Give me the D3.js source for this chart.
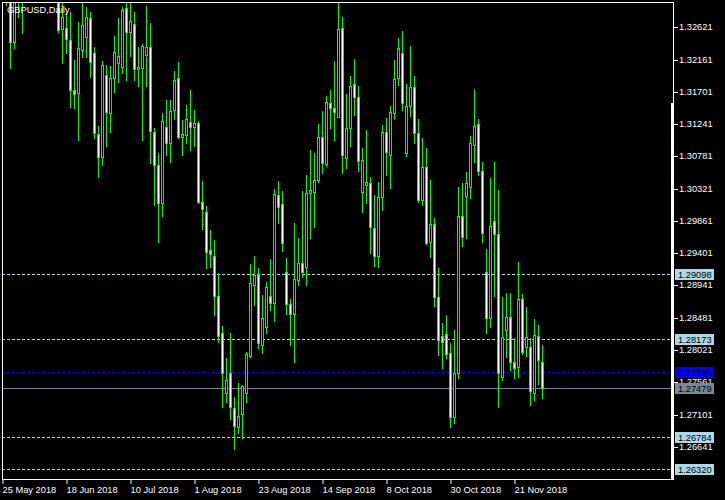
<!DOCTYPE html>
<html><head><meta charset="utf-8">
<script src="https://cdn.jsdelivr.net/npm/d3@7"></script>
<style>
body{margin:0;background:#000}
svg{display:block}
text{font-family:"Liberation Sans",Arial,sans-serif;font-size:9.3px}
</style></head>
<body><svg id="c" width="725" height="500"></svg>
<script>
const symbolTitle = "GBPUSD,Daily";
const firstDay = "2018-05-25", lastDay = "2018-11-30";
const open = [
1.3345,1.3310,1.3302,1.32415,1.3300,1.3302,1.3350,1.3330,1.3405,1.3425,
1.3410,1.3410,1.3380,1.3365,1.3400,1.32592,1.32606,1.32440,1.31727,1.31680,
1.32297,1.32487,1.32749,1.32250,1.31095,1.30767,1.31941,1.31403,1.31894,1.32107,
1.32059,1.3290,1.32558,1.32668,1.32022,1.32036,1.32226,1.32336,1.31133,1.30658,
1.30120,1.31195,1.30967,1.31442,1.31894,1.31053,1.31086,1.31275,1.31195,1.31252,
1.30126,1.29992,1.29446,1.29361,1.28790,1.28258,1.27403,1.27687,1.27189,1.26927,
1.27104,1.27403,1.27935,1.28947,1.29090,1.28092,1.28353,1.28790,1.28695,1.30230,
1.30102,1.29137,1.28672,1.28534,1.29019,1.29257,1.29208,1.30254,1.30277,1.30444,
1.31052,1.30672,1.31546,1.31466,1.31346,1.32606,1.30753,1.31181,1.31808,1.31623,
1.30277,1.30373,1.30405,1.29755,1.29361,1.30197,1.31132,1.30800,1.31395,1.31893,
1.32250,1.30833,1.31499,1.31765,1.31110,1.30159,1.30629,1.29564,1.29812,1.28772,
1.28220,1.28244,1.27974,1.27061,1.27689,1.29931,1.30216,1.30348,1.30943,1.31242,
1.30572,1.29137,1.28472,1.29864,1.29674,1.27640,1.28306,1.28487,1.27854,1.27774,
1.28743,1.28068,1.28059,1.27412,1.28220,1.27845];
const high = [
1.3380,1.3345,1.3324,1.3320,1.3335,1.3365,1.3366,1.3420,1.3445,1.3472,
1.3430,1.3415,1.3400,1.3440,1.3445,1.32970,1.32820,1.32843,1.32155,1.32701,
1.32963,1.32906,1.32843,1.32344,1.31214,1.32141,1.32083,1.32073,1.32501,1.32749,
1.32906,1.3362,1.32971,1.32843,1.32344,1.32378,1.32924,1.32686,1.31181,1.30825,
1.31395,1.31584,1.31584,1.31998,1.32131,1.31299,1.31513,1.31727,1.31442,1.31285,
1.30434,1.30073,1.29731,1.29589,1.29114,1.28363,1.27902,1.28259,1.27356,1.27546,
1.27522,1.27997,1.29247,1.29361,1.29194,1.28805,1.28994,1.29318,1.30316,1.30430,
1.30287,1.29328,1.28748,1.29827,1.29613,1.30287,1.30515,1.30871,1.30824,1.31242,
1.31427,1.31641,1.31727,1.32140,1.32962,1.32771,1.31670,1.31926,1.32164,1.31784,
1.30896,1.31156,1.30491,1.30230,1.30420,1.31228,1.31323,1.31499,1.32154,1.32464,
1.32568,1.31812,1.32354,1.31926,1.31313,1.31047,1.30896,1.30444,1.29898,1.29185,
1.28401,1.28520,1.28116,1.28306,1.30340,1.30397,1.30562,1.31071,1.31737,1.31313,
1.30705,1.29460,1.30472,1.30705,1.30301,1.28772,1.28829,1.28829,1.28187,1.29279,
1.28819,1.28629,1.28187,1.28462,1.28377,1.28092];
const low = [
1.3295,1.3294,1.32041,1.3232,1.32772,1.32540,1.3312,1.3318,1.3385,1.3400,
1.3365,1.3345,1.3310,1.3340,1.32550,1.32107,1.32250,1.31489,1.31466,1.31014,
1.32202,1.32202,1.31908,1.31038,1.30482,1.30658,1.30933,1.31133,1.31703,1.31845,
1.31965,1.31869,1.32212,1.31869,1.31784,1.31014,1.31784,1.30682,1.30087,1.29565,
1.29931,1.30800,1.30705,1.31313,1.31038,1.30800,1.30967,1.30872,1.30929,1.30120,
1.29741,1.29186,1.29208,1.28520,1.28135,1.27213,1.27284,1.27032,1.26605,1.26842,
1.26762,1.27284,1.27921,1.28662,1.28045,1.27982,1.28259,1.28591,1.28438,1.29835,
1.29436,1.28534,1.28092,1.27845,1.28947,1.29065,1.28947,1.29613,1.29778,1.30420,
1.30539,1.30648,1.31181,1.31007,1.31338,1.30539,1.30611,1.30933,1.31370,1.30572,
1.29992,1.30112,1.29399,1.29218,1.29208,1.30016,1.30515,1.30326,1.31309,1.31798,
1.31442,1.30786,1.31356,1.30976,1.30135,1.30087,1.29532,1.29351,1.28648,1.27950,
1.27760,1.27902,1.26927,1.26984,1.27617,1.29503,1.29613,1.30192,1.30705,1.30515,
1.29564,1.28259,1.28353,1.28790,1.27213,1.27593,1.27925,1.27736,1.27626,1.27640,
1.27964,1.27935,1.27237,1.27308,1.27536,1.27332];
const close = [
1.3310,1.3302,1.32415,1.3300,1.3302,1.3350,1.3330,1.3405,1.3425,1.3410,
1.3410,1.3380,1.3365,1.3400,1.32582,1.32772,1.32450,1.31727,1.31666,1.32321,
1.32654,1.32763,1.32130,1.31110,1.30767,1.32083,1.31418,1.31894,1.32265,1.32212,
1.32867,1.32550,1.32711,1.32022,1.32059,1.32354,1.32336,1.31147,1.30658,1.30120,
1.31289,1.30967,1.31432,1.31869,1.31061,1.31096,1.31309,1.31204,1.31252,1.30135,
1.30026,1.29422,1.29389,1.28794,1.28224,1.27687,1.27593,1.27203,1.26941,1.27080,
1.27507,1.27963,1.28980,1.29090,1.28125,1.28472,1.28923,1.28695,1.30244,1.30055,
1.29550,1.28672,1.28534,1.29029,1.29257,1.29137,1.30254,1.30301,1.30444,1.31052,
1.30682,1.31560,1.31466,1.31417,1.32592,1.30800,1.31181,1.31784,1.31631,1.30719,
1.30729,1.30420,1.29770,1.29361,1.30197,1.31132,1.30847,1.31417,1.31879,1.32321,
1.31537,1.31499,1.31765,1.31118,1.30159,1.30629,1.29550,1.29817,1.28780,1.28163,
1.28130,1.27959,1.27061,1.27689,1.29931,1.29636,1.30397,1.30967,1.31214,1.30572,
1.29693,1.28472,1.29788,1.29674,1.27689,1.28210,1.28487,1.27854,1.27760,1.28743,
1.27996,1.28210,1.27441,1.28235,1.27878,1.27479];
const priceTicks = [1.32621,1.32161,1.31701,1.31241,1.30781,1.30321,1.29861,1.29401,1.28941,1.28481,1.28021,1.27561,1.27101,1.26641];
const dateTickLabels = ["25 May 2018","18 Jun 2018","10 Jul 2018","1 Aug 2018","23 Aug 2018","14 Sep 2018","8 Oct 2018","30 Oct 2018","21 Nov 2018"];
const levelPrices = [1.29098,1.28173,1.26784,1.26320];
const sellLevel = [1.27709];
const bidLevel = [1.27479];
const priceRange = [1.26182,1.32981];

// trading days (Mon-Fri) as categories
const parse = d3.utcParse("%Y-%m-%d");
const days = d3.utcDay.range(parse(firstDay), d3.utcDay.offset(parse(lastDay),1)).filter(d=>d.getUTCDay()%6!==0);
const fmt = d3.utcFormat("%-d %b %Y");
const bars = days.map((d,i)=>({d, i, o:open[i], h:high[i], l:low[i], c:close[i]}));

const svg = d3.select("#c");
const L=2, T=2, R=673, B=479;
svg.append("rect").attr("width",725).attr("height",500).attr("fill","#000");

const x = d3.scalePoint().domain(d3.range(bars.length)).range([L, L+4*(bars.length-1)]);
const y = d3.scaleLinear().domain(priceRange).range([B, T]);
const py = v => Math.round(y(v));

svg.append("clipPath").attr("id","clip").append("rect").attr("x",L+1).attr("y",T+1).attr("width",R-L-1).attr("height",B-T-1);

// levels
const lv = svg.append("g");
lv.selectAll("line.lvl").data(levelPrices).join("line")
  .attr("x1",L).attr("x2",R).attr("y1",d=>py(d)+0.5).attr("y2",d=>py(d)+0.5)
  .attr("stroke","#add8e6").attr("stroke-dasharray","3,2");
lv.selectAll("line.sell").data(sellLevel).join("line")
  .attr("x1",L).attr("x2",R).attr("y1",d=>py(d)+0.5).attr("y2",d=>py(d)+0.5)
  .attr("stroke","#0000ff").attr("stroke-dasharray","3,2");
lv.selectAll("line.bid").data(bidLevel).join("line")
  .attr("x1",L).attr("x2",R).attr("y1",d=>py(d)+0.5).attr("y2",d=>py(d)+0.5)
  .attr("stroke","#778899");

// candles
const cg = svg.append("g").attr("clip-path","url(#clip)");
cg.selectAll("line.w").data(bars).join("line")
  .attr("x1",d=>x(d.i)+0.5).attr("x2",d=>x(d.i)+0.5)
  .attr("y1",d=>py(d.h)).attr("y2",d=>py(d.l)+1)
  .attr("stroke","#00ff00");
cg.selectAll("rect.b").data(bars).join("rect")
  .attr("x",d=>x(d.i)-0.5).attr("width",2)
  .attr("y",d=>py(Math.max(d.o,d.c))+0.5)
  .attr("height",d=>Math.max(py(Math.min(d.o,d.c))-py(Math.max(d.o,d.c)),1))
  .attr("fill",d=>d.c<d.o?"#ffffff":"#000000")
  .attr("stroke","#00ff00");

// frame
const fr = svg.append("g").attr("stroke","#fff");
fr.append("line").attr("x1",L).attr("x2",R+1).attr("y1",T+0.5).attr("y2",T+0.5);
fr.append("line").attr("x1",L+0.5).attr("x2",L+0.5).attr("y1",T).attr("y2",B+1);
fr.append("line").attr("x1",L).attr("x2",R+1).attr("y1",B+0.5).attr("y2",B+0.5);
fr.append("line").attr("x1",R+0.5).attr("x2",R+0.5).attr("y1",T).attr("y2",B+1);
svg.append("rect").attr("x",R-2).attr("y",103).attr("width",3).attr("height",B-103+1).attr("fill","#fff");

// right price axis
const ya = svg.append("g").attr("transform",`translate(${R+1},0.5)`)
  .call(d3.axisRight(y).tickValues(priceTicks).tickSize(4).tickPadding(1).tickFormat(d3.format(".5f")));
ya.select(".domain").remove();
ya.selectAll(".tick").attr("transform",d=>`translate(0,${py(d)})`);
ya.selectAll("line").attr("stroke","#fff");
ya.selectAll("text").attr("fill","#fff").attr("font-size",null).attr("font-family",null);
ya.attr("font-size",null).attr("font-family",null);

// bottom date axis
const tickIdx = dateTickLabels.map(s=>bars.findIndex(b=>fmt(b.d)===s));
const xa = svg.append("g").attr("transform",`translate(0.5,${B+1})`)
  .call(d3.axisBottom(x).tickValues(tickIdx).tickSize(4).tickPadding(2).tickFormat(i=>fmt(bars[i].d)));
xa.select(".domain").remove();
xa.selectAll("line").attr("stroke","#fff");
xa.selectAll("text").attr("fill","#fff").attr("text-anchor","start").attr("x",-0.5).attr("font-size",null);
xa.attr("font-size",null).attr("font-family",null);

// level labels on price axis
const labels = [
  ...levelPrices.map(p=>({p,bg:"#add8e6",fg:"#000"})),
  ...sellLevel.map(p=>({p,bg:"#0000ff",fg:"#000"})),
  ...bidLevel.map(p=>({p,bg:"#778899",fg:"#000"}))
];
const lg = svg.append("g").selectAll("g").data(labels).join("g")
  .attr("transform",d=>`translate(675,${py(d.p)-5})`);
lg.append("rect").attr("width",39).attr("height",11).attr("fill",d=>d.bg);
lg.append("text").attr("x",3).attr("y",9).attr("fill",d=>d.fg).text(d=>d3.format(".5f")(d.p));

// title
svg.append("text").attr("x",7).attr("y",13).attr("fill","#fff").text(symbolTitle);
</script></body></html>
